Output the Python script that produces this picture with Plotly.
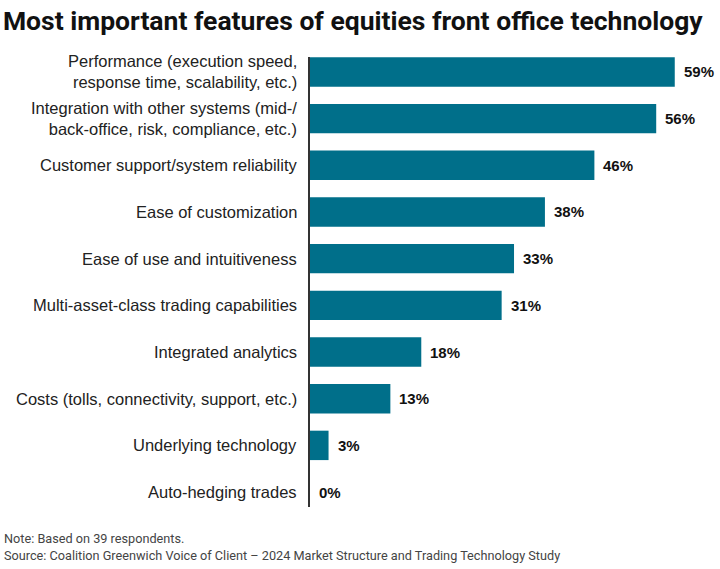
import plotly.graph_objects as go

categories = [
    "Performance (execution speed,<br>response time, scalability, etc.)",
    "Integration with other systems (mid-/<br>back-office, risk, compliance, etc.)",
    "Customer support/system reliability",
    "Ease of customization",
    "Ease of use and intuitiveness",
    "Multi-asset-class trading capabilities",
    "Integrated analytics",
    "Costs (tolls, connectivity, support, etc.)",
    "Underlying technology",
    "Auto-hedging trades",
]
values = [59, 56, 46, 38, 33, 31, 18, 13, 3, 0]
value_labels = [f"{v}%" for v in values]

title_text = "Most important features of equities front office technology"
note_text = "Note: Based on 39 respondents.<br>Source: Coalition Greenwich Voice of Client \u2013 2024 Market Structure and Trading Technology Study"

BAR = "#006F8A"

fig = go.Figure()
fig.add_trace(go.Bar(
    x=values, y=categories, orientation="h",
    marker=dict(color=BAR, line=dict(width=0)),
    width=0.63,
    hoverinfo="skip",
))

for c, v, t in zip(categories, values, value_labels):
    fig.add_annotation(
        x=v, y=c, text=t, xref="x", yref="y",
        xanchor="left", yanchor="middle", xshift=7, showarrow=False,
        font=dict(family="Liberation Sans, Arial, sans-serif", size=15, color="#111111", weight="bold"),
    )
    # category label, right-aligned line by line
    fig.add_annotation(
        x=0, y=c, text=c, xref="paper", yref="y",
        xanchor="right", yanchor="middle", align="right", xshift=-11,
        showarrow=False,
        font=dict(family="Liberation Sans, Arial, sans-serif", size=16.5, color="#222222"),
    )

fig.update_layout(
    width=720, height=569,
    margin=dict(l=310, r=10, t=57, b=62),
    paper_bgcolor="white", plot_bgcolor="white",
    showlegend=False,
    title=dict(
        text=f"<b>{title_text}</b>", xref="container", yref="container",
        x=0.004, xanchor="left", y=0.963, yanchor="middle",
        font=dict(family="Roboto, sans-serif", size=26.5, color="#111111"),
    ),
    xaxis=dict(range=[0, 64.7], visible=False, fixedrange=True),
    yaxis=dict(
        autorange=False, range=[9.32, -0.32],
        showline=True, linecolor="#333333", linewidth=1.5,
        showgrid=False, zeroline=False, ticks="", showticklabels=False,
    ),
)

fig.add_annotation(
    x=0, y=0, xref="paper", yref="paper", xanchor="left", yanchor="bottom",
    xshift=-308, yshift=-58, align="left", showarrow=False,
    text=note_text,
    font=dict(family="Roboto, sans-serif", size=12.7, color="#444444"),
)

fig.write_html("out.html")
